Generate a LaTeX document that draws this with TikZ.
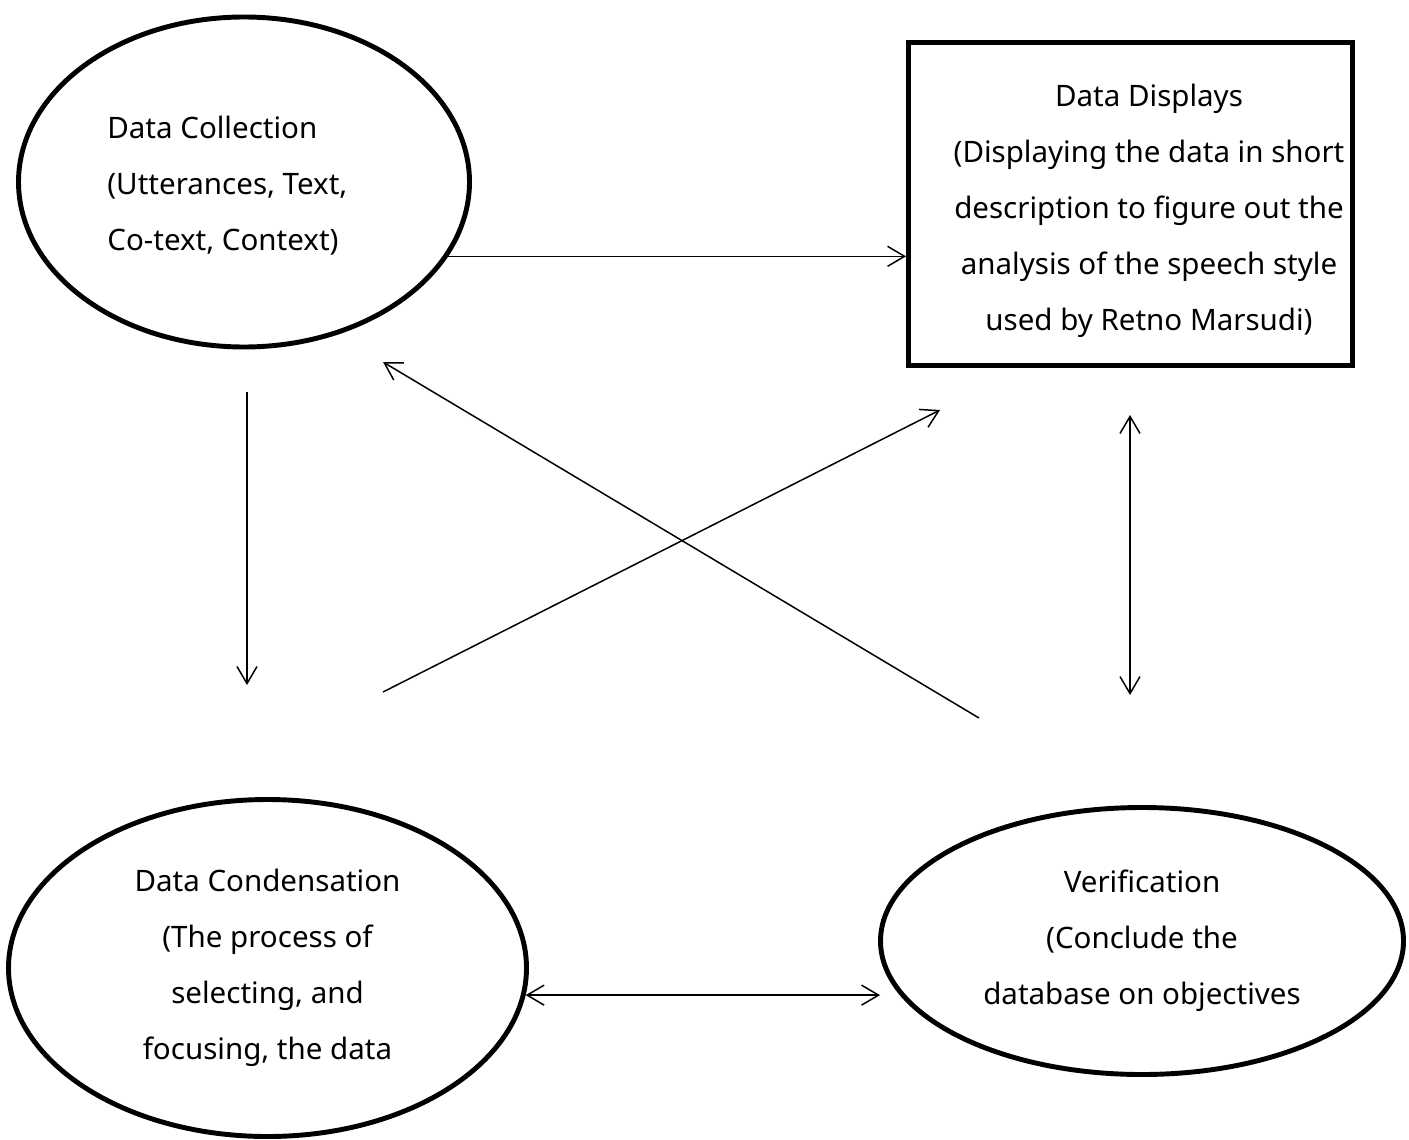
\documentclass[tikz,border=0pt]{standalone}
\usepackage{fontspec}
\setmainfont{Noto Sans}
\usetikzlibrary{positioning,shapes.geometric,arrows.meta}

\begin{document}
\begin{tikzpicture}[
		stage/.style={draw, line width=2.8pt, inner sep=0pt},
		txt/.style={align=center, inner sep=0pt, font=\fontsize{16.8}{31.9}\selectfont},
		link/.style={line width=0.85pt, -{Straight Barb[length=3.4mm,width=4mm]}},
		both/.style={line width=0.85pt, {Straight Barb[length=3.4mm,width=4mm]}-{Straight Barb[length=3.4mm,width=4mm]}}]
				\useasboundingbox (0,0) rectangle (28.18,-22.78);
				\node [stage, ellipse, minimum width=9.02cm, minimum height=6.6cm] (coll) at (4.88,-3.64) {};
				\node [txt, align=left, anchor=west] (colltxt) at (2.14,-3.72) {Data Collection\\(Utterances, Text,\\Co-text, Context)};
				\node [stage, rectangle, minimum width=8.88cm, minimum height=6.46cm] (disp) at (22.61,-4.08) {};
				\node [txt] (disptxt) at (22.98,-4.22) {Data Displays\\(Displaying the data in short\\description to figure out the\\analysis of the speech style\\used by Retno Marsudi)};
				\node [stage, ellipse, txt, minimum width=10.36cm, minimum height=6.74cm] (cond) at (5.35,-19.36) {Data Condensation\\(The process of\\selecting, and\\focusing, the data};
				\node [stage, ellipse, txt, minimum width=10.46cm, minimum height=5.34cm] (verif) at (22.84,-18.82) {Verification\\(Conclude the\\database on objectives};
				% free ends of the arrows
				\coordinate (a) at (4.94,-7.84);    \coordinate (b) at (4.94,-13.7);
				\coordinate (c) at (7.66,-13.84);   \coordinate (d) at (18.8,-8.2);
				\coordinate (e) at (19.58,-14.36);  \coordinate (f) at (7.66,-7.24);
				\coordinate (g) at (22.6,-8.3);     \coordinate (h) at (22.6,-13.9);
				\coordinate (k) at (17.6,-19.9);
				\draw [link] (coll.-20.5) -- (coll.-20.5 -| disp.west);
				\draw [link] (a) -- (b);
				\draw [link] (c) -- (d);
				\draw [link] (e) -- (f);
				\draw [both] (g) -- (h);
				\draw [both] (cond.-6) -- (cond.-6 -| k);
			\end{tikzpicture}
\end{document}
